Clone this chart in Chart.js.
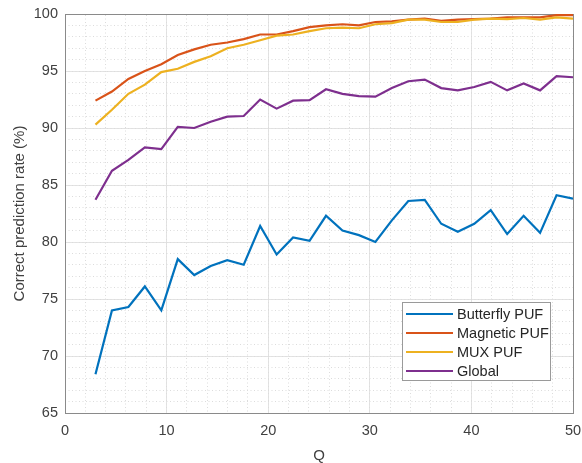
<html><head><meta charset="UTF-8">
<title>Correct prediction rate vs Q</title>
<style>
* { margin: 0; padding: 0; }
body { background: #ffffff; }
#wrap { width: 582px; height: 463px; }
</style>
<script src="https://cdn.jsdelivr.net/npm/chart.js"></script>
</head>
<body>
<div id="wrap"><canvas id="chart" width="582" height="463"></canvas></div>
<script>
// values
const qValues = [3, 4.62, 6.24, 7.86, 9.48, 11.1, 12.72, 14.34, 15.97, 17.59, 19.21, 20.83, 22.45, 24.07, 25.69,
  27.31, 28.93, 30.55, 32.17, 33.79, 35.41, 37.03, 38.66, 40.28, 41.9, 43.52, 45.14, 46.76, 48.38, 50];

const butterfly = [68.4, 74.0, 74.3, 76.1, 74.0, 78.5, 77.1, 77.9, 78.4, 78.0, 81.4, 78.9, 80.4, 80.1, 82.3,
  81.0, 80.6, 80.0, 81.9, 83.6, 83.7, 81.6, 80.9, 81.6, 82.8, 80.7, 82.3, 80.8, 84.1, 83.8];

const magnetic = [92.4, 93.2, 94.3, 95.0, 95.6, 96.4, 96.9, 97.3, 97.5, 97.8, 98.2, 98.2, 98.5, 98.85, 99.0,
  99.1, 99.0, 99.3, 99.35, 99.5, 99.6, 99.4, 99.5, 99.55, 99.6, 99.7, 99.7, 99.7, 99.9, 99.9];

const mux = [90.3, 91.6, 93.0, 93.8, 94.9, 95.2, 95.8, 96.3, 97.0, 97.3, 97.7, 98.1, 98.2, 98.5, 98.75,
  98.8, 98.75, 99.1, 99.2, 99.5, 99.5, 99.3, 99.3, 99.5, 99.6, 99.55, 99.65, 99.5, 99.7, 99.6];

const globalRate = [83.7, 86.25, 87.2, 88.3, 88.15, 90.1, 90.0, 90.55, 91.0, 91.05, 92.5, 91.7, 92.4, 92.45, 93.4,
  93.0, 92.8, 92.75, 93.5, 94.1, 94.25, 93.5, 93.3, 93.6, 94.05, 93.3, 93.9, 93.3, 94.55, 94.45];

const seriesNames = ['Butterfly PUF', 'Magnetic PUF', 'MUX PUF', 'Global'];
const seriesColors = ['#0072BD', '#D95319', '#EDB120', '#7E2F8E'];
const seriesValues = [butterfly, magnetic, mux, globalRate];

const FONT = 'Liberation Sans, Arial, sans-serif';
const TXT = '#404040';
const AXIS = '#8a8a8a';

const toPoints = vals => vals.map((v, i) => ({ x: qValues[i], y: v }));

// keep the plot box fixed, no extra room for end labels
const noPad = s => { s.paddingLeft = 0; s.paddingRight = 0; s.paddingTop = 0; s.paddingBottom = 0; };

// legend box drawn inside the plot, like matlab 'Location','southeast'
const boxLegend = {
  id: 'boxLegend',
  afterDatasetsDraw(chart) {
    const { ctx, chartArea } = chart;
    const w = 148, h = 78;
    const x0 = chartArea.right - 23 - w;
    const y0 = chartArea.bottom - 33 - h;
    ctx.save();
    ctx.fillStyle = '#ffffff';
    ctx.fillRect(x0, y0, w, h);
    ctx.strokeStyle = '#9a9a9a';
    ctx.lineWidth = 1;
    ctx.strokeRect(x0 + 0.5, y0 + 0.5, w, h);
    ctx.font = '14.5px ' + FONT;
    ctx.textBaseline = 'middle';
    ctx.fillStyle = '#262626';
    chart.data.datasets.forEach((ds, i) => {
      const y = y0 + 12 + i * 19;
      ctx.strokeStyle = ds.borderColor;
      ctx.lineWidth = 2.2;
      ctx.beginPath();
      ctx.moveTo(x0 + 4, y);
      ctx.lineTo(x0 + 51, y);
      ctx.stroke();
      ctx.fillText(ds.label, x0 + 55, y + 1);
    });
    ctx.restore();
  }
};

new Chart(document.getElementById('chart'), {
  type: 'line',
  data: {
    datasets: seriesNames.map((name, i) => ({
      label: name,
      data: toPoints(seriesValues[i]),
      borderColor: seriesColors[i],
      backgroundColor: seriesColors[i],
      borderWidth: 2.2,
      pointRadius: 0,
      tension: 0,
      fill: false,
      order: 4 - i
    }))
  },
  options: {
    responsive: false,
    animation: false,
    layout: { padding: { top: 14, right: 9, left: 0, bottom: 0 } },
    plugins: { legend: { display: false }, tooltip: { enabled: false } },
    scales: {
      x: {
        type: 'linear', position: 'bottom', min: 0, max: 50,
        ticks: { stepSize: 10, color: TXT, font: { family: FONT, size: 14.5 }, padding: 9, maxRotation: 0 },
        grid: { color: '#e3e3e3', lineWidth: 1, drawTicks: false },
        border: { color: AXIS, width: 1 },
        title: { display: true, text: 'Q', color: TXT, font: { family: FONT, size: 15 }, padding: { top: 7, bottom: -2 } },
        afterFit: s => { s.height = 50; noPad(s); }
      },
      y: {
        type: 'linear', position: 'left', min: 65, max: 100,
        ticks: { stepSize: 5, color: TXT, font: { family: FONT, size: 14.5 }, padding: 7 },
        grid: { color: '#e3e3e3', lineWidth: 1, drawTicks: false },
        border: { color: AXIS, width: 1 },
        title: { display: true, text: 'Correct prediction rate (%)', color: TXT, font: { family: FONT, size: 15 }, padding: { top: 11 } },
        afterFit: s => { s.width = 65; noPad(s); }
      },
      // minor grid + box on top / right
      xMinor: {
        type: 'linear', position: 'top', min: 0, max: 50,
        ticks: { stepSize: 2, display: false },
        grid: { color: '#dcdcdc', lineWidth: 1, drawTicks: false },
        border: { color: AXIS, width: 1, dash: [1, 2.5] },
        afterFit: s => { s.height = 0; noPad(s); }
      },
      yMinor: {
        type: 'linear', position: 'right', min: 65, max: 100,
        ticks: { stepSize: 1, display: false },
        grid: { color: '#dcdcdc', lineWidth: 1, drawTicks: false },
        border: { color: AXIS, width: 1, dash: [1, 2.5] },
        afterFit: s => { s.width = 0; noPad(s); }
      }
    }
  },
  plugins: [boxLegend]
});
</script>
</body></html>
